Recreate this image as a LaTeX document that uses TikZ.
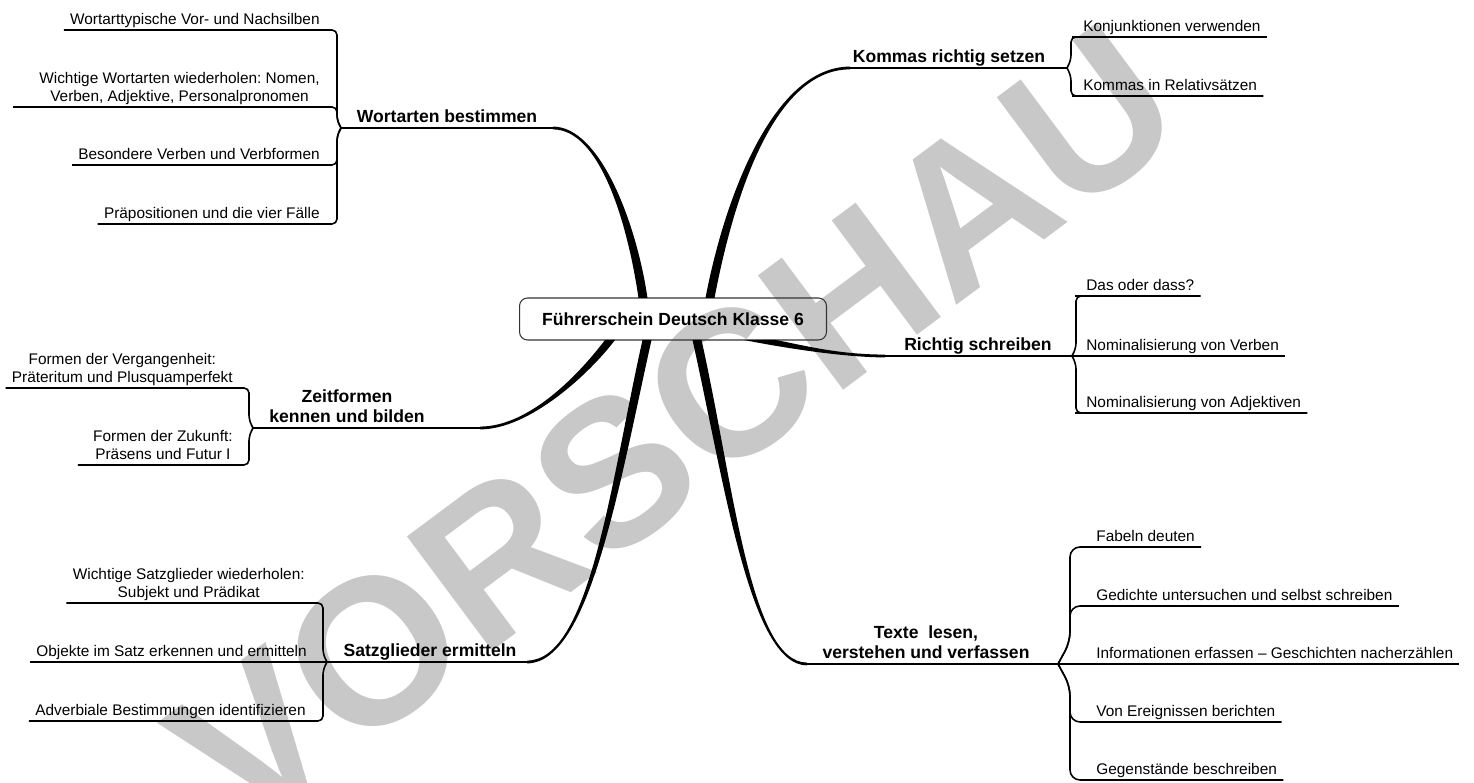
\documentclass[tikz,border=0pt]{standalone}
\usepackage{fontspec}
\setmainfont{Liberation Sans}
\usetikzlibrary{calc, positioning}
\definecolor{stampgray}{RGB}{200,200,200}
\frenchspacing

\newcommand{\leaffont}{\fontsize{8.76}{10.2}\selectfont}
\newcommand{\limbfont}{\fontsize{10}{11.4}\selectfont\bfseries}

% Hauptast, spitz zulaufend: Start, Kontrollpunkt 1, Kontrollpunkt 2, Ende, halbe Breite am Start
\newcommand{\limb}[5]{%
  \fill ($(#1)+(#5)$) .. controls ($(#2)+(#5)$) and ($(#3)+(0,1.4)$) .. ($(#4)+(0,1.4)$)
    -- ($(#4)+(0,-1.4)$) .. controls ($(#3)+(0,-1.4)$) and ($(#2)-(#5)$) .. ($(#1)-(#5)$) -- cycle;}

\tikzset{
  hub/.style={draw=black!80, line width=0.6pt, rounded corners=0.16cm, minimum width=6.14cm, minimum height=0.84cm, outer sep=0pt, font=\limbfont},
  limblabel/.style={inner sep=0pt, text depth=0.1cm, anchor=south, align=center, font=\limbfont},
  limbline/.style={line width=1.6pt},
  leaf/.style={inner xsep=0.12cm, inner ysep=0.05cm, text depth=0.06cm, align=center, font=\leaffont},
  twig/.style={line width=0.9pt, rounded corners=0.1cm},
  stamp/.style={text=stampgray, inner sep=0pt, font=\fontsize{118}{118}\selectfont\bfseries}
}

\begin{document}
\begin{tikzpicture}[x=0.02cm, y=0.02cm]
    \useasboundingbox (0,0) rectangle (1474,783);
    \clip (0,0) rectangle (1474,783);

    % Wasserzeichen
    \node[stamp, rotate=36.7] (stamp) at (674,356) {VORSCHAU};

    % Mitte
    \node[hub] (root) at (673,464) {Führerschein Deutsch Klasse 6};

    % Wortarten bestimmen
    \coordinate (wa-a) at ($(root.north)+(-30,0)$);
    \coordinate (wa-b) at (553,655);
    \coordinate (wa-j) at (341,655);
    \limb{wa-a}{632,560}{600,655}{wa-b}{4.5,0}
    \draw[limbline] (wa-b) -- (wa-j);
    \node[limblabel] (wa) at (447,655) {Wortarten bestimmen};

    \node[leaf, anchor=south east] (wa1) at (326,753) {Wortarttypische Vor- und Nachsilben};
    \node[leaf, anchor=south east] (wa2) at (326,676) {Wichtige Wortarten wiederholen: Nomen,\\Verben, Adjektive, Personalpronomen};
    \node[leaf, anchor=south east] (wa3) at (326,618) {Besondere Verben und Verbformen};
    \node[leaf, anchor=south east] (wa4) at (326,559) {Präpositionen und die vier Fälle};
    \draw[twig] (wa-j) -- ++(-4,8) |- (wa1.south east) -- (wa1.south west);
    \draw[twig] (wa-j) -- ++(-4,8) |- (wa2.south east) -- (wa2.south west) -- ++(-20,0);
    \draw[twig] (wa-j) -- ++(-4,-8) |- (wa3.south east) -- (wa3.south west);
    \draw[twig] (wa-j) -- ++(-4,-8) |- (wa4.south east) -- (wa4.south west);

    % Kommas richtig setzen
    \coordinate (ko-a) at ($(root.north)+(37,0)$);
    \coordinate (ko-b) at (850,715);
    \coordinate (ko-j) at (1067,715);
    \limb{ko-a}{730,590}{775,715}{ko-b}{-4.5,0}
    \draw[limbline] (ko-b) -- (ko-j);
    \node[limblabel] (ko) at (949,715) {Kommas richtig setzen};

    \node[leaf, anchor=south west] (ko1) at (1077,746) {Konjunktionen verwenden};
    \node[leaf, anchor=south west] (ko2) at (1077,687) {Kommas in Relativsätzen};
    \draw[twig] (ko-j) -- ++(4,8) |- (ko1.south west) -- (ko1.south east);
    \draw[twig] (ko-j) -- ++(4,-8) |- (ko2.south west) -- (ko2.south east);

    % Richtig schreiben
    \coordinate (ri-a) at ($(root.south)+(87,0)$);
    \coordinate (ri-b) at (885,427);
    \coordinate (ri-j) at (1072,427);
    \limb{ri-a}{790,437}{840,427}{ri-b}{16,0}
    \draw[limbline] (ri-b) -- (ri-j);
    \node[limblabel] (ri) at (978,427) {Richtig schreiben};

    \node[leaf, anchor=south west] (ri1) at (1080,487) {Das oder dass?};
    \node[leaf, anchor=south west] (ri2) at (1080,427) {Nominalisierung von Verben};
    \node[leaf, anchor=south west] (ri3) at (1080,370) {Nominalisierung von Adjektiven};
    \draw[twig] (ri-j) -- ++(4,8) |- (ri1.south west) -- (ri1.south east);
    \draw[twig] (ri-j) -- (ri2.south east);
    \draw[twig] (ri-j) -- ++(4,-8) |- (ri3.south west) -- (ri3.south east);

    % Zeitformen kennen und bilden
    \coordinate (ze-a) at ($(root.south)+(-63,0)$);
    \coordinate (ze-b) at (480,355);
    \coordinate (ze-j) at (253,355);
    \limb{ze-a}{585,410}{530,355}{ze-b}{-5,0}
    \draw[limbline] (ze-b) -- (ze-j);
    \node[limblabel] (ze) at (347,355) {Zeitformen\\kennen und bilden};

    \node[leaf, anchor=south east] (ze1) at (239,395) {Formen der Vergangenheit:\\Präteritum und Plusquamperfekt};
    \node[leaf, anchor=south east] (ze2) at (239,318) {Formen der Zukunft:\\Präsens und Futur I};
    \draw[twig] (ze-j) -- ++(-4,8) |- (ze1.south east) -- (ze1.south west);
    \draw[twig] (ze-j) -- ++(-4,-8) |- (ze2.south east) -- (ze2.south west) -- ++(-9,0);

    % Satzglieder ermitteln
    \coordinate (sa-a) at ($(root.south)+(-26,0)$);
    \coordinate (sa-b) at (527,121);
    \coordinate (sa-j) at (327,121);
    \limb{sa-a}{615,300}{590,121}{sa-b}{-4.5,0}
    \draw[limbline] (sa-b) -- (sa-j);
    \node[limblabel] (sa) at (430,121) {Satzglieder ermitteln};

    \node[leaf, anchor=south east] (sa1) at (311,180) {Wichtige Satzglieder wiederholen:\\Subjekt und Prädikat};
    \node[leaf, anchor=south east] (sa2) at (313,121) {Objekte im Satz erkennen und ermitteln};
    \node[leaf, anchor=south east] (sa3) at (312,62) {Adverbiale Bestimmungen identifizieren};
    \draw[twig] (sa-j) -- ++(-4,8) |- (sa1.south east) -- (sa1.south west);
    \draw[twig] (sa-j) -- (sa2.south west);
    \draw[twig] (sa-j) -- ++(-4,-8) |- (sa3.south east) -- (sa3.south west);

    % Texte lesen, verstehen und verfassen
    \coordinate (te-a) at ($(root.south)+(24,0)$);
    \coordinate (te-b) at (807,119);
    \coordinate (te-j) at (1058,119);
    \limb{te-a}{729,300}{750,119}{te-b}{4.5,0}
    \draw[limbline] (te-b) -- (te-j);
    \node[limblabel] (te) at (926,119) {Texte\ \ lesen,\\verstehen und verfassen};

    \node[leaf, anchor=south west] (te1) at (1090,236) {Fabeln deuten};
    \node[leaf, anchor=south west] (te2) at (1090,177) {Gedichte untersuchen und selbst schreiben};
    \node[leaf, anchor=south west] (te3) at (1090,119) {Informationen erfassen – Geschichten nacherzählen};
    \node[leaf, anchor=south west] (te4) at (1090,61) {Von Ereignissen berichten};
    \node[leaf, anchor=south west] (te5) at (1090,3) {Gegenstände beschreiben};
    \draw[twig, rounded corners=0.2cm] (te-j) -- ++(12,22) |- (te1.south west) -- (te1.south east);
    \draw[twig, rounded corners=0.2cm] (te-j) -- ++(12,22) |- (te2.south west) -- (te2.south east);
    \draw[twig] (te-j) -- (te3.south east);
    \draw[twig, rounded corners=0.2cm] (te-j) -- ++(12,-22) |- (te4.south west) -- (te4.south east);
    \draw[twig, rounded corners=0.2cm] (te-j) -- ++(12,-22) |- (te5.south west) -- (te5.south east);
\end{tikzpicture}
\end{document}
